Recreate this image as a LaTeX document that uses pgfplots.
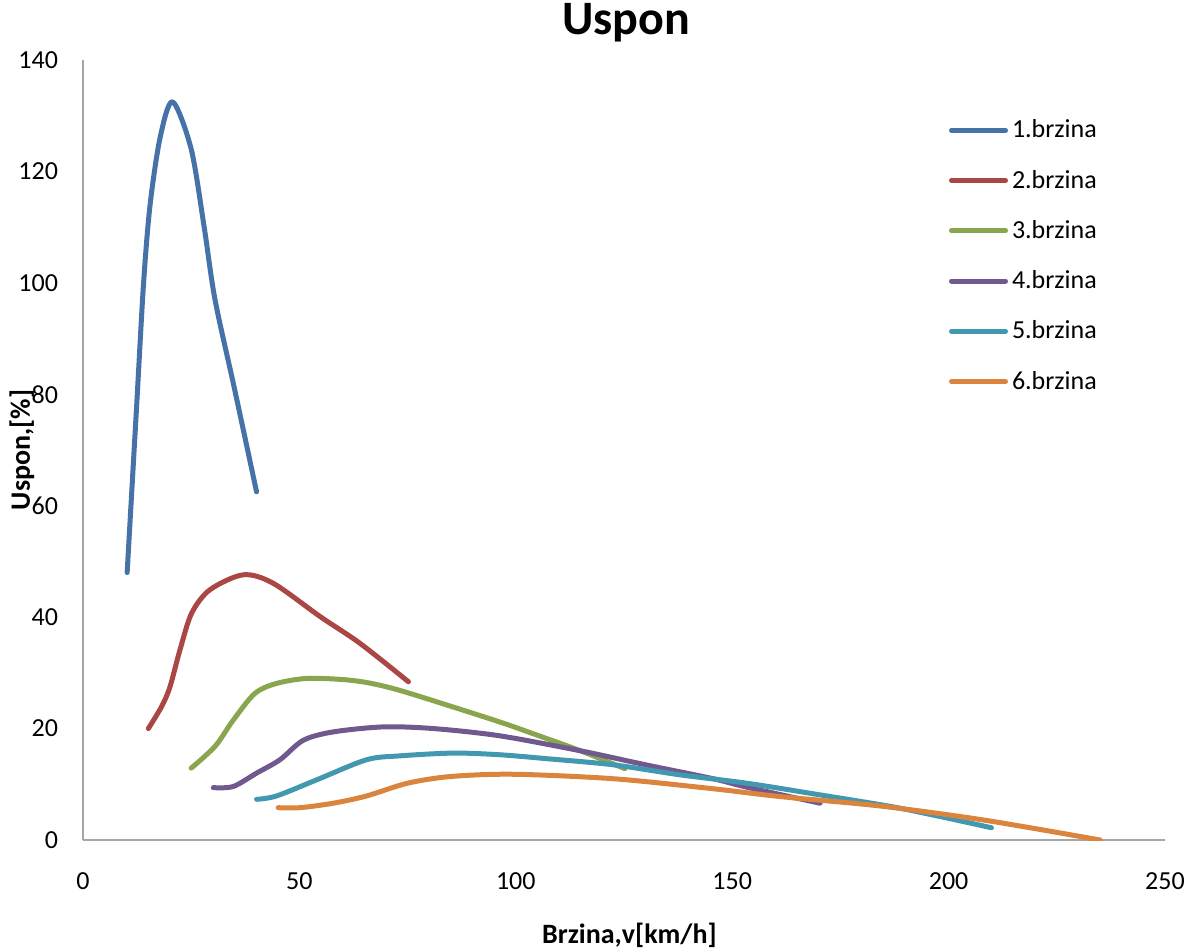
\documentclass[border=0pt]{standalone}
\usepackage{pgfplots}
\pgfplotsset{compat=1.18}
\usepackage{fontspec}
\setmainfont{Carlito}
\definecolor{c1}{HTML}{4572A7}
\definecolor{c2}{HTML}{AA4643}
\definecolor{c3}{HTML}{89A54E}
\definecolor{c4}{HTML}{71588F}
\definecolor{c5}{HTML}{4198AF}
\definecolor{c6}{HTML}{DB843D}
\definecolor{axgray}{HTML}{A6A6A6}
\begin{document}
\begin{tikzpicture}
\path[use as bounding box] (-41.5pt,-54pt) rectangle (553pt,420pt);
\begin{axis}[
  scale only axis,
  width=541pt, height=390pt,
  xmin=0, xmax=250, ymin=0, ymax=140,
  xtick={0,50,...,250}, ytick={0,20,...,140},
  axis x line*=bottom, axis y line*=left,
  axis line style={axgray, line width=1pt, -},
  major tick length=0pt,
  /pgf/number format/assume math mode=true,
  tick label style={font=\fontsize{13}{13}\selectfont, black},
  xticklabel style={yshift=-13pt},
  yticklabel style={xshift=-9pt},
  title={Uspon},
  title style={at={(axis description cs:0.502,1.032)}, anchor=center, font=\bfseries\fontsize{24}{24}\selectfont},
  xlabel={Brzina,v[km/h]},
  xlabel style={at={(axis description cs:0.505,-0.122)}, anchor=center, font=\bfseries\fontsize{14}{14}\selectfont},
  ylabel={Uspon,[\%]},
  ylabel style={at={(axis description cs:-0.0564,0.5)}, anchor=center, rotate=0, font=\bfseries\fontsize{14}{14}\selectfont},
  legend style={at={(axis description cs:0.80,0.929)}, anchor=north west, draw=none, fill=none,
    font=\fontsize{13}{13}\selectfont, row sep=10.6pt, inner sep=0pt},
  legend cell align=left,
  legend image code/.code={\draw[#1, line cap=round] (0pt,0pt) -- (27pt,0pt);},
  every axis plot/.append style={line width=2.5pt, smooth, tension=0.5, line cap=round, line join=round},
]
\addplot[c1] coordinates {(10.2,48) (12.4,78) (14,100) (15.5,114) (17.8,126) (20.7,132.5) (25,124) (28,110) (30.5,97) (35,81) (40.1,62.5)};
\addlegendentry{1.brzina}
\addplot[c2] coordinates {(15.1,20) (18.2,24) (20.1,27.5) (22.4,34.1) (25.1,40.7) (29.3,44.9) (37,47.6) (43.9,46.1) (54.8,40.1) (64,35.3) (75.2,28.4)};
\addlegendentry{2.brzina}
\addplot[c3] coordinates {(25,12.9) (30.5,16.8) (34.7,21.5) (39.7,26.3) (44.7,28.1) (51.7,29) (60,28.8) (66,28.2) (73,26.9) (85,24) (97,21) (105,18.8) (115,16) (125.2,12.8)};
\addlegendentry{3.brzina}
\addplot[c4] coordinates {(30.1,9.4) (34.7,9.6) (40.1,12) (45.5,14.4) (50.9,17.9) (57.8,19.4) (69.4,20.3) (81,20) (96.3,18.7) (115,16) (130,13.5) (145.6,11) (153.3,9.5) (170.3,6.6)};
\addlegendentry{4.brzina}
\addplot[c5] coordinates {(40.1,7.3) (44.7,7.9) (54,10.8) (65.5,14.4) (73.2,15.1) (85.6,15.6) (96.3,15.3) (107.1,14.6) (122.5,13.5) (137.9,11.7) (153.3,10.2) (168.7,8.3) (188.8,5.7) (209.9,2.2)};
\addlegendentry{5.brzina}
\addplot[c6] coordinates {(45.1,5.8) (50.1,5.8) (57.8,6.6) (65.5,7.9) (75,10.2) (85,11.4) (99.4,11.8) (122.5,11) (145.6,9.2) (161,7.8) (184.2,6.1) (208,3.6) (235,0)};
\addlegendentry{6.brzina}
\end{axis}
\end{tikzpicture}
\end{document}
